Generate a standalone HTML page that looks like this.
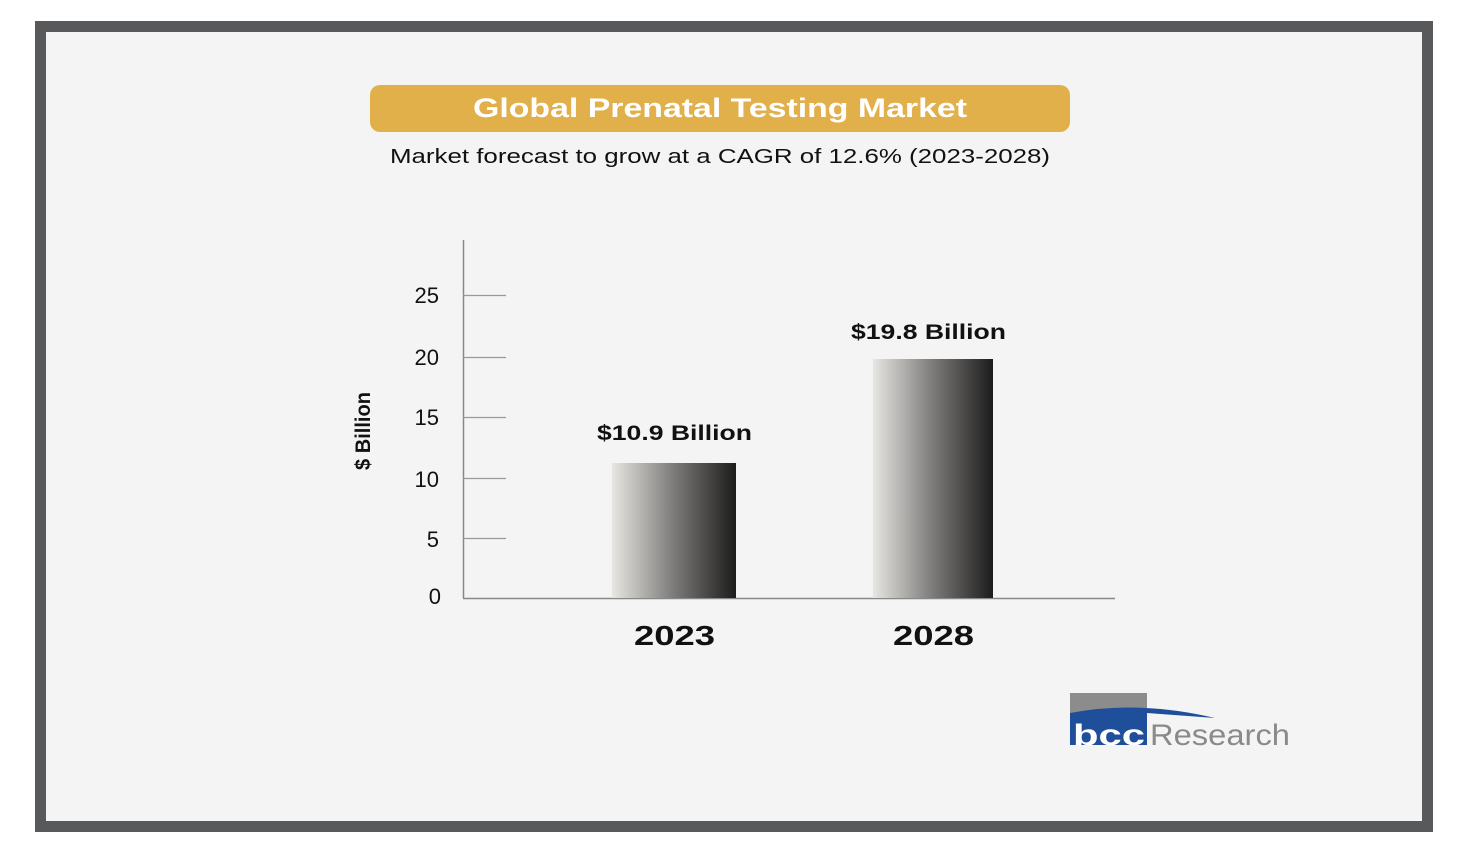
<!DOCTYPE html>
<html><head><style>
body{margin:0;width:1469px;height:853px;background:#fff;position:relative;overflow:hidden;font-family:"Liberation Sans","DejaVu Sans",sans-serif}
.frame{position:absolute;left:35px;top:21px;width:1376px;height:789px;border:11px solid #58595b;background:#f4f4f4}
.a{position:absolute}
</style></head><body>
<div class="frame"></div>
<div class="a" style="left:370px;top:85px;width:700px;height:47px;background:#e2b04a;border-radius:10px"></div>
<svg class="a" style="left:0;top:0" width="1469" height="853" font-family="Liberation Sans,sans-serif">
<defs><linearGradient id="g" x1="0" x2="1"><stop offset="0" stop-color="#e8e6e3"/><stop offset="0.5" stop-color="#7d7b79"/><stop offset="1" stop-color="#1c1c1c"/></linearGradient></defs>
<text x="473" y="117" font-size="27" font-weight="bold" fill="#fff" textLength="494" lengthAdjust="spacingAndGlyphs">Global Prenatal Testing Market</text>
<text x="390" y="163" font-size="20" fill="#111" textLength="660" lengthAdjust="spacingAndGlyphs">Market forecast to grow at a CAGR of 12.6% (2023-2028)</text>
<line x1="463.5" y1="240" x2="463.5" y2="598" stroke="#888" stroke-width="1.5"/>
<line x1="463" y1="598.5" x2="1115" y2="598.5" stroke="#888" stroke-width="1.5"/>
<g stroke="#999" stroke-width="1.2">
<line x1="463" x2="506" y1="295.5" y2="295.5"/><line x1="463" x2="506" y1="357.5" y2="357.5"/><line x1="463" x2="506" y1="417.5" y2="417.5"/><line x1="463" x2="506" y1="478.5" y2="478.5"/><line x1="463" x2="506" y1="538.5" y2="538.5"/></g>
<g font-size="22" fill="#111" text-anchor="end">
<text x="439" y="303">25</text><text x="439" y="365">20</text><text x="439" y="425">15</text><text x="439" y="487">10</text><text x="439" y="547">5</text><text x="441" y="604">0</text></g>
<text transform="translate(370,431) rotate(-90)" text-anchor="middle" font-size="21" font-weight="bold" fill="#111" textLength="78" lengthAdjust="spacingAndGlyphs">$ Billion</text>
<rect x="612" y="463" width="124" height="135" fill="url(#g)"/>
<rect x="873" y="359" width="120" height="239" fill="url(#g)"/>
<g font-weight="bold" fill="#111">
<text x="597" y="440" font-size="21" textLength="155" lengthAdjust="spacingAndGlyphs">$10.9 Billion</text>
<text x="851" y="339" font-size="21" textLength="155" lengthAdjust="spacingAndGlyphs">$19.8 Billion</text>
<text x="634" y="645" font-size="28" textLength="81" lengthAdjust="spacingAndGlyphs">2023</text>
<text x="893" y="645" font-size="28" textLength="81" lengthAdjust="spacingAndGlyphs">2028</text></g>
<rect x="1070" y="693" width="77" height="20" fill="#8c8c8c"/>
<path d="M1070 713 Q1140 700 1215 718 L1147 713 L1147 745 L1070 745Z" fill="#1f4e9a"/>
<text x="1073" y="745" font-size="30" font-weight="bold" fill="#fff" textLength="72" lengthAdjust="spacingAndGlyphs">bcc</text>
<text x="1150" y="745" font-size="30" fill="#8a8a8a" textLength="140" lengthAdjust="spacingAndGlyphs">Research</text>
</svg>
</body></html>
